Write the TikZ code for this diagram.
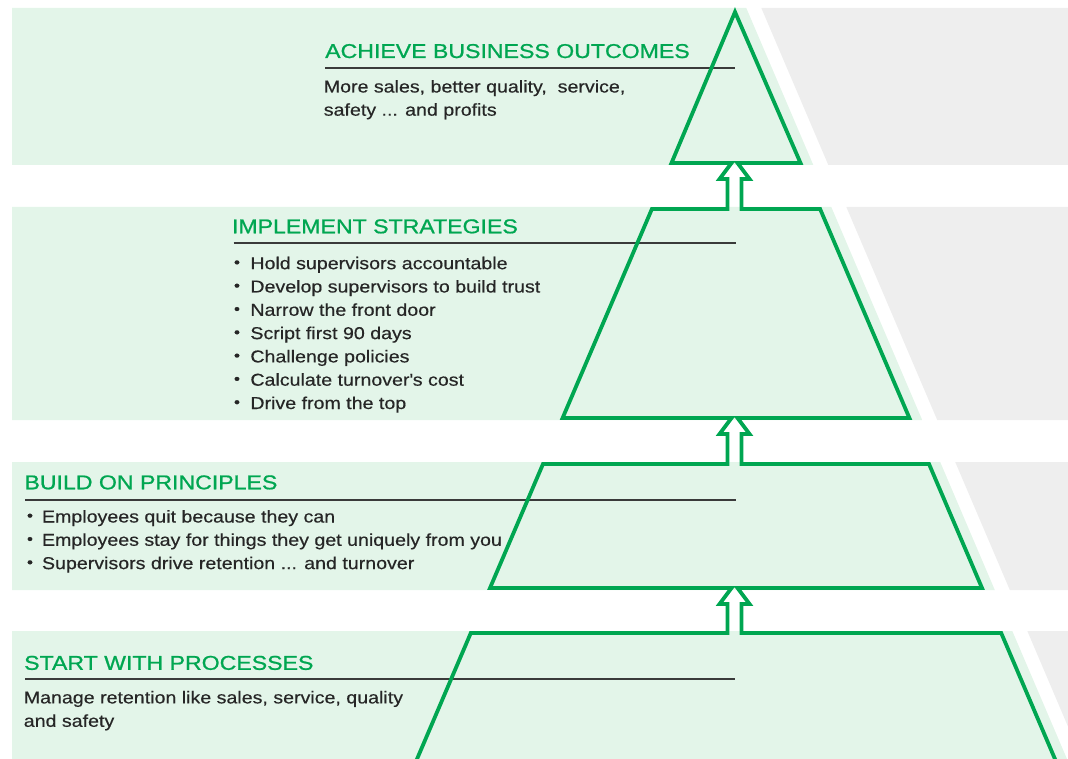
\documentclass[tikz,border=0pt]{standalone}
\usepackage{fontspec}
\setmainfont{Liberation Sans}[FakeStretch=1.14]
\newfontfamily\headfont{Liberation Sans}[FakeStretch=1.155,FakeBold=0.9]
\newfontfamily\bodyfont{Liberation Sans}[FakeStretch=1.14,FakeBold=0.4]
\definecolor{gr}{HTML}{00A651}
\definecolor{bandc}{HTML}{E3F5E9}
\definecolor{greyc}{HTML}{EEEEEE}
\definecolor{txt}{HTML}{262626}
\definecolor{rulec}{HTML}{3A3A3A}
\newcommand{\tdots}{...}
\begin{document}
\begin{tikzpicture}[x=1pt,y=-1pt,
  head/.style={anchor=base west, inner sep=0pt, text=gr, font=\headfont\fontsize{20}{24}\selectfont},
  body/.style={anchor=base west, inner sep=0pt, text=txt, font=\bodyfont\fontsize{17.2}{23}\selectfont},
  bul/.style={anchor=center, inner sep=0pt, text=txt, font=\bodyfont\fontsize{15}{15}\selectfont},
  outline/.style={draw=gr, line width=3.8pt, line join=miter},
  rulel/.style={draw=rulec, line width=1.8pt}]
\useasboundingbox (0,0) rectangle (1068,759);
\begin{scope}
\clip (0,0) rectangle (1068,759);
% light green bands
\fill[bandc] (12,8) -- (746.3,8) -- (813.3,165) -- (12,165) -- cycle;
\fill[bandc] (12,207) -- (831.3,207) -- (922.2,420) -- (12,420) -- cycle;
\fill[bandc] (12,462) -- (940.2,462) -- (994.8,590) -- (12,590) -- cycle;
\fill[bandc] (12,631) -- (1012.3,631) -- (1067,759) -- (12,759) -- cycle;
% grey bands
\fill[greyc] (761.3,8) -- (1068,8) -- (1068,165) -- (828.3,165) -- cycle;
\fill[greyc] (846.3,207) -- (1068,207) -- (1068,420) -- (937.2,420) -- cycle;
\fill[greyc] (955.2,462) -- (1068,462) -- (1068,590) -- (1009.8,590) -- cycle;
\fill[greyc] (1027.3,631) -- (1068,631) -- (1068,790) -- (1095,790) -- cycle;
% rules
\draw[rulel] (325,67.7) -- (735,67.7);
\draw[rulel] (233.5,242.7) -- (736,242.7);
\draw[rulel] (25,499.8) -- (736,499.8);
\draw[rulel] (25,679.3) -- (735,679.3);
% pyramid outline with arrows
\draw[outline] (410.2,775) -- (470.8,633) -- (727.5,633) -- (727.5,604) -- (719.5,604) -- (731.5,588)
  -- (490,588) -- (543,464) -- (727.5,464) -- (727.5,434) -- (719.5,434) -- (731.5,418)
  -- (562.6,418) -- (651.9,209) -- (727.5,209) -- (727.5,179) -- (719.5,179) -- (731.5,163)
  -- (671.5,163) -- (735,12) -- (800.5,163) -- (737.5,163) -- (749.5,179) -- (741.5,179)
  -- (741.5,209) -- (820.1,209) -- (909.4,418) -- (737.5,418) -- (749.5,434) -- (741.5,434)
  -- (741.5,464) -- (929,464) -- (982,588) -- (737.5,588) -- (749.5,604) -- (741.5,604)
  -- (741.5,633) -- (1001.2,633) -- (1061.8,775);
\end{scope}
% tier 1
\node[head] (h1) at (325,58) {ACHIEVE BUSINESS OUTCOMES};
\node[body] (t1a) at (323.6,92.5) {More sales, better quality,~ service,};
\node[body] (t1b) at (323.6,115.7) {safety ... and profits};
% tier 2
\node[head] (h2) at (231.8,233.3) {IMPLEMENT STRATEGIES};
\foreach \txt [count=\i from 0] in {Hold supervisors accountable,Develop supervisors to build trust,Narrow the front door,Script first 90 days,Challenge policies,Calculate turnover\textquotesingle s cost,Drive from the top}{
  \node[body] (s\i) at (250.2,{269.2+23.3*\i}) {\txt};
  \node[bul] (sb\i) at (237,{269.2+23.3*\i-5.3}) {•};
}
% tier 3
\node[head] (h3) at (24.3,489.3) {BUILD ON PRINCIPLES};
\foreach \txt [count=\i from 0] in {Employees quit because they can,Employees stay for things they get uniquely from you,Supervisors drive retention \tdots{} and turnover}{
  \node[body] (p\i) at (41.8,{522.5+23.3*\i}) {\txt};
  \node[bul] (pb\i) at (30,{522.5+23.3*\i-5.3}) {•};
}
% tier 4
\node[head] (h4) at (24,669.8) {START WITH PROCESSES};
\node[body] (t4a) at (23.6,703.4) {Manage retention like sales, service, quality};
\node[body] (t4b) at (23.6,726.8) {and safety};
\end{tikzpicture}
\end{document}
